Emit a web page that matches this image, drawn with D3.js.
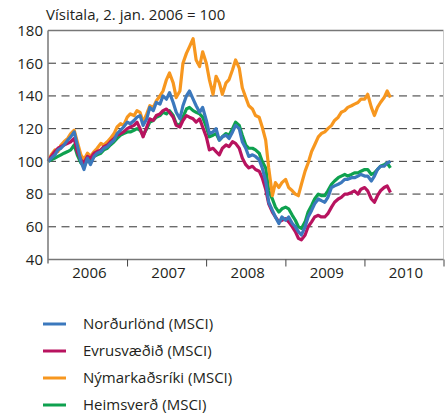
<!DOCTYPE html>
<html>
<head>
<meta charset="utf-8">
<script src="https://cdn.jsdelivr.net/npm/d3@7"></script>
<style>
  body { margin: 0; background: #fff; }
  svg text { font-family: "Open Sans", sans-serif; fill: #231f20; }
</style>
</head>
<body>
<svg id="chart" width="445" height="413"></svg>
<script>
// semi-monthly observations, Jan 2006 - May 2010
const dates = [];
d3.timeMonth.range(new Date(2006, 0, 1), new Date(2010, 4, 1)).forEach(m => {
    dates.push(new Date(m.getFullYear(), m.getMonth(), 2));
    dates.push(new Date(m.getFullYear(), m.getMonth(), 16));
});
dates.push(new Date(2010, 4, 1));

const nordurlond = [100,102,104,107,108,110,113,115,118,
    110,100,95,102,98,103,105,106,108,109,
    111,113,117,119,121,124,123,125,127,128,
    122,126,133,131,136,135,140,138,142,136,
    130,126,134,140,143,138,134,130,133,125,
    117,118,120,113,115,116,114,118,122,120,
    112,108,103,104,103,101,96,88,75,70,
    66,62,66,64,66,62,60,57,55,60,
    66,70,74,77,76,75,78,84,85,86,
    87,89,89,90,90,91,92,91,91,88,
    91,95,97,97,99,100];

const evrusvaedid = [100,103,106,108,109,110,111,112,114,
    106,101,99,103,102,105,106,107,109,110,
    112,114,116,117,118,120,121,122,124,120,
    115,121,126,125,128,129,131,132,130,127,
    122,121,125,128,127,126,124,126,121,115,
    107,108,106,104,108,110,109,112,111,108,
    102,98,96,97,95,94,90,83,74,69,
    66,63,64,65,63,60,57,53,52,55,
    60,63,66,67,66,66,68,72,75,77,
    78,80,80,81,82,80,83,84,82,77,
    75,79,82,84,85,81];

const nymarkadsriki = [100,104,107,106,110,112,114,117,119,
    112,104,101,105,103,106,108,111,110,112,
    114,117,121,123,122,127,129,128,131,130,
    124,129,134,133,137,140,143,150,154,148,
    139,143,160,166,170,175,162,158,167,160,
    150,141,152,148,141,148,150,156,162,157,
    145,139,134,132,128,127,121,113,96,79,
    87,84,87,89,84,82,80,79,86,94,
    99,106,110,115,117,118,120,122,125,127,
    130,131,133,134,135,136,138,138,141,133,
    128,133,136,139,143,139];

const heimsverd = [100,101,102,103,104,105,106,107,110,
    104,99,97,101,100,103,104,105,107,108,
    110,112,114,116,117,118,118,119,120,119,
    116,120,124,125,127,128,130,129,131,128,
    123,122,127,132,133,131,130,129,127,121,
    115,116,117,113,115,117,116,120,124,122,
    116,110,108,108,107,105,100,96,82,77,
    72,69,71,72,71,67,64,60,59,63,
    69,73,77,80,79,79,82,86,88,90,
    91,92,91,92,93,93,94,95,95,92,
    93,95,97,98,99,96];

const yTicks = [40, 60, 80, 100, 120, 140, 160, 180];
const years = [2006, 2007, 2008, 2009, 2010];

const series = [
    { name: "Norðurlönd (MSCI)", values: nordurlond, color: "#3b78bd" },
    { name: "Evrusvæðið (MSCI)", values: evrusvaedid, color: "#b8135f" },
    { name: "Nýmarkaðsríki (MSCI)", values: nymarkadsriki, color: "#f7971f" },
    { name: "Heimsverð (MSCI)", values: heimsverd, color: "#0ea14f" }
];
const drawOrder = [3, 2, 1, 0]; // blue ends up on top

const svg = d3.select("#chart");
const plotLeft = 48, plotRight = 443.5, plotTop = 30.5, plotBottom = 259.5;

const x = d3.scaleTime()
    .domain([new Date(2006, 0, 1), new Date(2011, 0, 1)])
    .range([plotLeft, plotRight]);
const y = d3.scaleLinear().domain([40, 180]).range([plotBottom, plotTop]);

// title
svg.append("text")
    .attr("x", 46).attr("y", 20)
    .style("font-size", "15px")
    .text("Vísitala, 2. jan. 2006 = 100");

// dashed grid
svg.append("g")
    .selectAll("line")
    .data(yTicks.filter(d => d > 40 && d < 180))
    .join("line")
    .attr("x1", plotLeft).attr("x2", plotRight)
    .attr("y1", d => y(d)).attr("y2", d => y(d))
    .attr("stroke", "#333")
    .attr("stroke-width", 1)
    .attr("stroke-dasharray", "8,5.5");

// frame: top and right
svg.append("line")
    .attr("x1", plotLeft).attr("x2", plotRight)
    .attr("y1", plotTop).attr("y2", plotTop)
    .attr("stroke", "#777").attr("stroke-width", 1.5);
svg.append("line")
    .attr("x1", plotRight).attr("x2", plotRight)
    .attr("y1", plotTop).attr("y2", plotBottom)
    .attr("stroke", "#ccc").attr("stroke-width", 1);

// lines
const line = d3.line()
    .x((d, i) => x(dates[i]))
    .y(d => y(d));

svg.append("g")
    .selectAll("path")
    .data(drawOrder.map(i => series[i]))
    .join("path")
    .attr("fill", "none")
    .attr("stroke", d => d.color)
    .attr("stroke-width", 3.2)
    .attr("stroke-linejoin", "round")
    .attr("d", d => line(d.values));

// y axis
const yAxis = svg.append("g")
    .attr("transform", `translate(${plotLeft},0)`)
    .call(d3.axisLeft(y).tickValues(yTicks).tickSize(0).tickPadding(5));
yAxis.select(".domain").attr("stroke", "#777").attr("stroke-width", 1.5)
    .attr("d", `M0,${plotTop}V${plotBottom + 4}`);
yAxis.selectAll("text")
    .style("font-size", "15px")
    .style("font-family", "Open Sans, sans-serif")
    .attr("fill", "#231f20");

// x axis: ticks at year boundaries, labels mid-year
const xAxis = svg.append("g")
    .attr("transform", `translate(0,${plotBottom})`)
    .call(d3.axisBottom(x)
        .tickValues(years.slice(1).map(yr => new Date(yr, 0, 1)).concat([new Date(2011, 0, 1)]))
        .tickSize(7)
        .tickFormat(""));
xAxis.select(".domain").attr("stroke", "#777").attr("stroke-width", 1.5)
    .attr("d", `M${plotLeft},0H${plotRight}`);
xAxis.selectAll(".tick line").attr("stroke", "#444");

svg.append("g")
    .selectAll("text")
    .data(years)
    .join("text")
    .attr("x", yr => x(new Date(yr, 6, 2)) + 2)
    .attr("y", plotBottom + 18)
    .attr("text-anchor", "middle")
    .style("font-size", "15px")
    .text(yr => yr);

// legend
const legend = svg.append("g")
    .selectAll("g")
    .data(series)
    .join("g")
    .attr("transform", (d, i) => `translate(43,${324 + i * 27})`);
legend.append("line")
    .attr("x1", 0).attr("x2", 23)
    .attr("stroke", d => d.color)
    .attr("stroke-width", 3);
legend.append("text")
    .attr("x", 40).attr("dy", "0.35em")
    .style("font-size", "15px")
    .text(d => d.name);
</script>
</body>
</html>
